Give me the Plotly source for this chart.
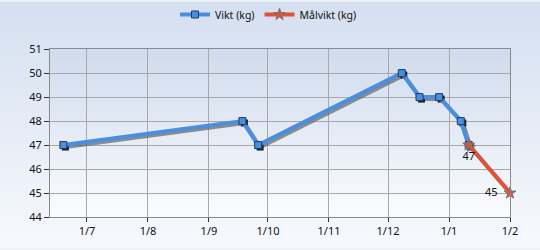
import plotly.graph_objects as go
from datetime import datetime, timedelta

# ---- data ----
vikt_dates = ["2000-06-19", "2000-09-18", "2000-09-26", "2000-12-08",
              "2000-12-17", "2000-12-27", "2001-01-07", "2001-01-11"]
vikt_values = [47, 48, 47, 50, 49, 49, 48, 47]
mal_dates = ["2001-01-11", "2001-02-01"]
mal_values = [47, 45]
mal_labels = ["47", "45"]
y_ticks = [44, 45, 46, 47, 48, 49, 50, 51]

W, H = 540, 250
ML, MR, MT, MB = 50, 30, 48, 32
PW, PH = W - ML - MR, H - MT - MB

x0 = datetime(2000, 6, 12, 5)
x1 = datetime(2001, 2, 1)
span = (x1 - x0).total_seconds()
px_t = timedelta(seconds=span / PW * 2)   # 2px shadow offset
y_lo, y_hi = 44, 51
px_y = (y_hi - y_lo) / PH * 2

blue = "#4a8ee0"
red = "#e05236"
shadow = "rgba(100,100,100,0.7)"

fig = go.Figure()

# invisible anchor trace so the visible axes are drawn
fig.add_trace(go.Scatter(x=vikt_dates, y=vikt_values, mode="lines",
                         line=dict(width=0, color="rgba(0,0,0,0)"), opacity=0,
                         showlegend=False, hoverinfo="skip"))

# shadows (x2/y2: shifted ranges)
fig.add_trace(go.Scatter(x=vikt_dates, y=vikt_values, mode="lines+markers",
                         line=dict(color=shadow, width=4),
                         marker=dict(symbol="square", size=7, color="#222"),
                         xaxis="x2", yaxis="y2", showlegend=False, hoverinfo="skip",
                         cliponaxis=False))
fig.add_trace(go.Scatter(x=mal_dates, y=mal_values, mode="lines+markers",
                         line=dict(color=shadow, width=4),
                         marker=dict(symbol="star", size=9, color="#777"),
                         xaxis="x2", yaxis="y2", showlegend=False, hoverinfo="skip",
                         cliponaxis=False))

# main series (x3/y3: same ranges as visible axes, drawn on top)
fig.add_trace(go.Scatter(x=vikt_dates, y=vikt_values, mode="lines+markers",
                         name="Vikt (kg)",
                         line=dict(color=blue, width=4),
                         marker=dict(symbol="square", size=7, color=blue,
                                     line=dict(color="#1c3a66", width=1)),
                         xaxis="x3", yaxis="y3", cliponaxis=False))
fig.add_trace(go.Scatter(x=mal_dates, y=mal_values, mode="lines+markers+text",
                         name="Målvikt (kg)",
                         text=[mal_labels[0], mal_labels[1] + "\u00a0\u00a0"],
                         textposition=["bottom center", "middle left"],
                         textfont=dict(family="Noto Sans", size=11, color="#111"),
                         line=dict(color=red, width=4),
                         marker=dict(symbol="star", size=9, color=red,
                                     line=dict(color="#777", width=1)),
                         xaxis="x3", yaxis="y3", cliponaxis=False))

page_grad = ("data:image/svg+xml;utf8,<svg xmlns='http://www.w3.org/2000/svg' width='10' height='100' preserveAspectRatio='none'>"
             "<defs><linearGradient id='g' x1='0' y1='0' x2='0' y2='1'>"
             "<stop offset='0' stop-color='%23d4dff0'/><stop offset='1' stop-color='%23f7f9fd'/>"
             "</linearGradient></defs><rect width='10' height='100' fill='url(%23g)'/></svg>")
plot_grad = ("data:image/svg+xml;utf8,<svg xmlns='http://www.w3.org/2000/svg' width='10' height='100' preserveAspectRatio='none'>"
             "<defs><linearGradient id='g' x1='0' y1='0' x2='0' y2='1'>"
             "<stop offset='0' stop-color='%23cfdbee'/><stop offset='1' stop-color='%23fbfcfe'/>"
             "</linearGradient></defs><rect width='10' height='100' fill='url(%23g)'/></svg>")

font = dict(family="Noto Sans", size=11, color="#111")

fig.update_layout(
    width=W, height=H,
    margin=dict(l=ML, r=MR, t=MT, b=MB),
    paper_bgcolor="#eef2f9",
    plot_bgcolor="rgba(0,0,0,0)",
    font=font,
    showlegend=True,
    legend=dict(orientation="h", x=0.475, xanchor="center", y=1.0, yref="container",
                yanchor="top", bgcolor="rgba(0,0,0,0)",
                font=dict(family="Noto Sans", size=10.5, color="#111"),
                itemwidth=30, tracegroupgap=0),
    images=[
        dict(source=page_grad, xref="paper", yref="paper",
             x=-ML / PW, y=1 + MT / PH, sizex=W / PW, sizey=H / PH,
             sizing="stretch", layer="below", xanchor="left", yanchor="top"),
        dict(source=plot_grad, xref="paper", yref="paper",
             x=0, y=1, sizex=1, sizey=1,
             sizing="stretch", layer="below", xanchor="left", yanchor="top"),
    ],
    xaxis=dict(type="date", range=[x0, x1], tickformat="%-d/%-m", dtick="M1",
               tick0="2000-07-01", showgrid=True, gridcolor="#a8a8a8", gridwidth=1,
               showline=True, linecolor="#8a8a8a", mirror=True, ticks="outside",
               ticklen=4, tickcolor="#333", tickfont=font, zeroline=False),
    yaxis=dict(range=[y_lo, y_hi], tickvals=y_ticks, showgrid=True, gridcolor="#a8a8a8",
               showline=True, linecolor="#8a8a8a", mirror=True, ticks="outside",
               ticklen=5, tickcolor="#333", tickfont=font, zeroline=False),
    xaxis2=dict(type="date", range=[x0 - px_t, x1 - px_t], overlaying="x",
                visible=False, showgrid=False),
    yaxis2=dict(range=[y_lo + px_y, y_hi + px_y], overlaying="y",
                visible=False, showgrid=False),
    xaxis3=dict(type="date", range=[x0, x1], overlaying="x",
                visible=False, showgrid=False),
    yaxis3=dict(range=[y_lo, y_hi], overlaying="y",
                visible=False, showgrid=False),
)

fig.write_html("out.html")
